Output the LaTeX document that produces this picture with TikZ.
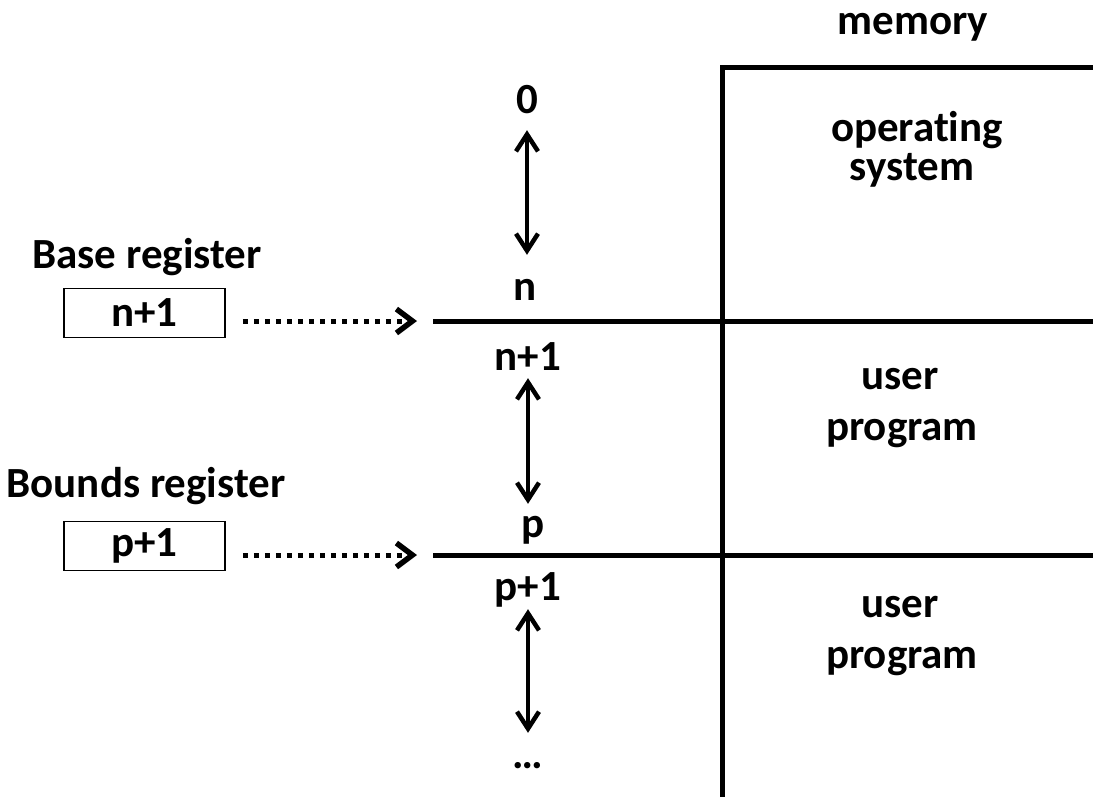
\documentclass[tikz,border=0pt]{standalone}
\usepackage{fontspec}
\setmainfont{Carlito}[RawFeature=-liga]
\usetikzlibrary{arrows.meta}
\begin{document}
\begin{tikzpicture}[x=1pt,y=-1pt,
  txt/.style={font=\fontsize{43}{50}\selectfont\bfseries, inner sep=0pt, anchor=base},
  addr/.style={txt, text height=28pt, text depth=9pt},
  wall/.style={line width=5pt},
  regbox/.style={draw, line width=1.5pt, minimum width=161pt, minimum height=49pt,
    inner sep=0pt, font=\fontsize{43}{50}\selectfont\bfseries},
  spanarrow/.style={line width=4pt,
    {Straight Barb[length=17pt,width=22pt,line width=4.5pt]}-{Straight Barb[length=17pt,width=22pt,line width=4.5pt]}},
  ptr/.style={line width=5pt, dash pattern=on 5pt off 6pt,
    -{Straight Barb[length=16pt,width=24pt,line width=5.5pt]}}
]
\useasboundingbox (0,0) rectangle (1093,796);

% memory column and its partitions
\coordinate (mtop) at (722,67);
\coordinate (bl) at (433,321);
\coordinate (bd) at (433,555);
\draw[wall] (1096,67) -- (mtop) -- (722,799);
\draw[wall] (bl) -- (1096,321);
\draw[wall] (bd) -- (1096,555);

\node[txt] (mem) at (913,34) {memory};
\node[txt] (os1) at (917,141) {operating};
\node[txt] (os2) at (912,180) {system};
\node[txt] (up1) at (900,389) {user};
\node[txt] (up2) at (902,440) {program};
\node[txt] (uq1) at (900,617) {user};
\node[txt] (uq2) at (902,668) {program};

% addresses
\node[addr] (l0)  at (527,113) {0};
\node[addr] (ln)  at (525,300) {n};
\node[addr] (ln1) at (528,370) {n+1};
\node[addr] (lp)  at (533,537) {p};
\node[addr] (lp1) at (528,600) {p+1};
\node[addr] (ldt) at (528,768) {\dots};

\draw[spanarrow, shorten <=8pt, shorten >=17pt] (l0.south) -- (l0.south |- ln.north);
\draw[spanarrow, shorten <=-1pt, shorten >=5pt] (ln1.south) -- (ln1.south |- lp.north);
\draw[spanarrow, shorten <=0pt, shorten >=7pt] (lp1.south) -- (lp1.south |- ldt.north);

% registers
\node[txt] (baselbl) at (147,268) {Base register};
\node[regbox] (basebox) at (144.5,313) {n+1};
\node[txt] (bndlbl) at (146,497) {Bounds register};
\node[regbox] (bndbox) at (144.5,546) {p+1};

\draw[ptr, shorten <=17pt, shorten >=16pt] (basebox.east |- bl) -- (bl);
\draw[ptr, shorten <=17pt, shorten >=16pt] (bndbox.east |- bd) -- (bd);
\end{tikzpicture}
\end{document}
